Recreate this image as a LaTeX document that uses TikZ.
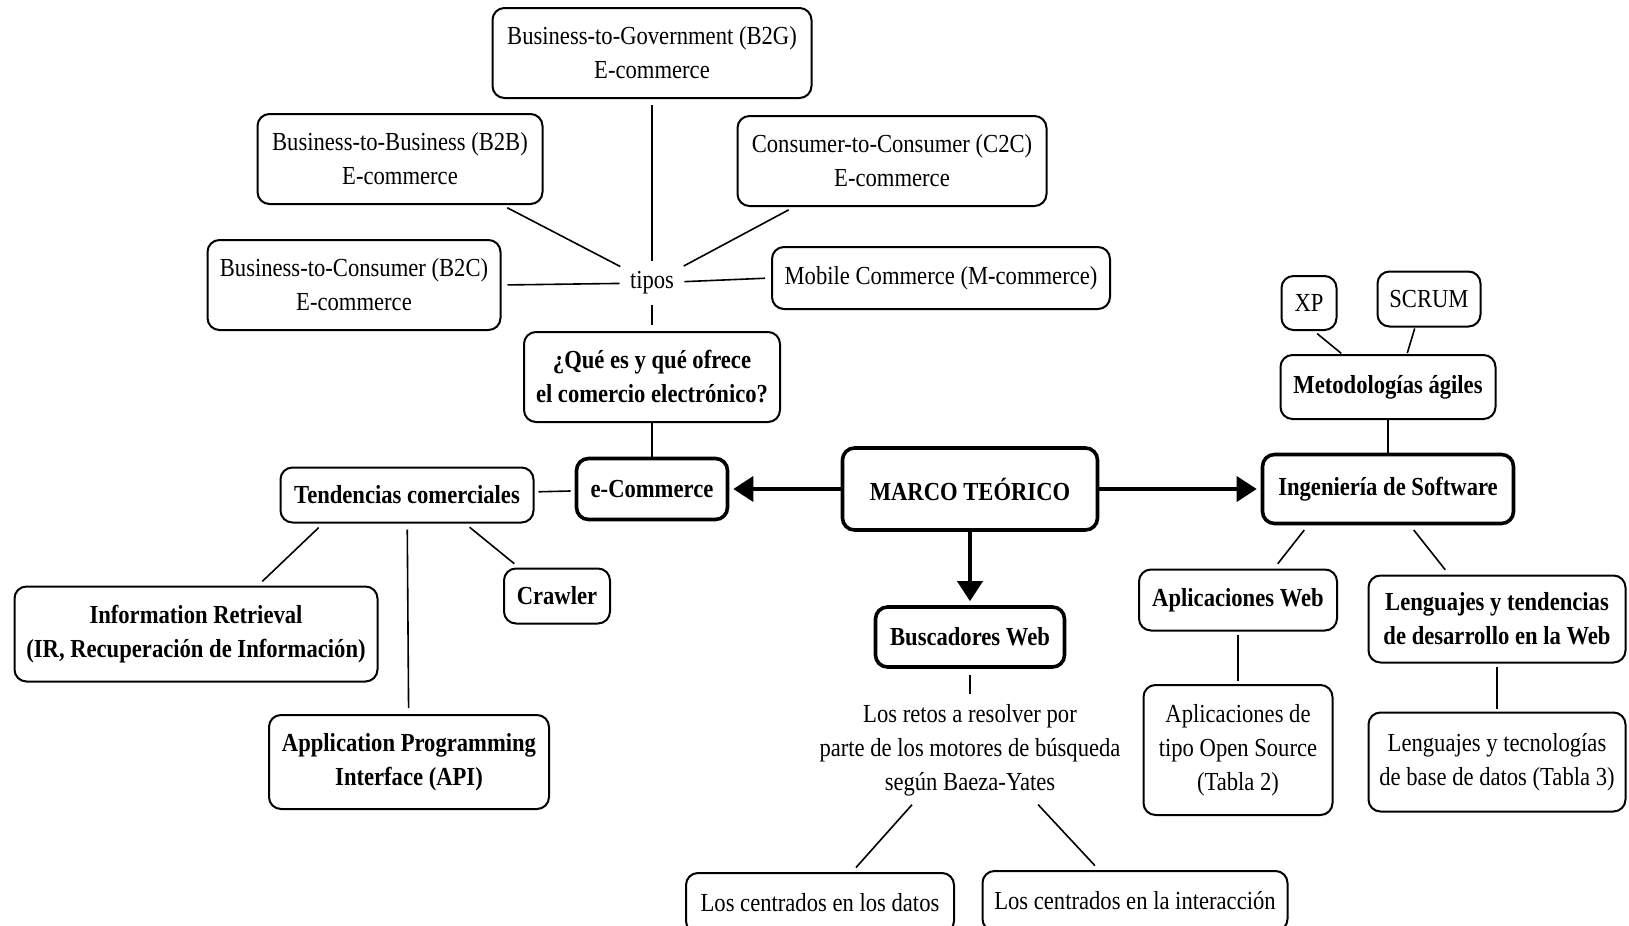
\documentclass[tikz,border=0pt]{standalone}
\usepackage{fontspec}
\setmainfont{Liberation Serif}[FakeStretch=0.87]
\usetikzlibrary{positioning}
\usetikzlibrary{shapes,arrows.meta}
\tikzstyle{block} = [rectangle, draw, rounded corners=6pt, line width=1pt,
    align=center, inner sep=0pt, font=\fontsize{13}{17}\selectfont]
\tikzstyle{bblock} = [block, font=\fontsize{13}{17}\selectfont\bfseries]
\tikzstyle{mainblock} = [bblock, line width=1.8pt]
\tikzstyle{label} = [align=center, inner sep=2pt, font=\fontsize{13}{17}\selectfont]
\tikzstyle{line} = [draw, line width=0.8pt, shorten <=3pt, shorten >=3pt]
\tikzstyle{arrowline} = [draw, line width=1.8pt, shorten >=2pt,
    -{Triangle[length=10pt,width=12.5pt]}]

\begin{document}
\begin{tikzpicture}[x=0.5pt, y=-0.5pt, node distance=100pt]
    \useasboundingbox (0,0) rectangle (1629,926);
    % Place nodes
    \node [mainblock, minimum width=127.5pt, minimum height=41pt] (marco) at (970,489) {MARCO TEÓRICO};
    \node [mainblock, left of=marco, node distance=159pt, minimum width=75.5pt, minimum height=30.5pt] (ecom) {e-Commerce};
    \node [mainblock, right of=marco, node distance=209pt, minimum width=125.5pt, minimum height=34.5pt] (ing) {Ingeniería de Software};
    \node [mainblock, below of=marco, node distance=74pt, minimum width=94.5pt, minimum height=30pt] (busc) {Buscadores Web};

    \node [bblock, above of=ecom, node distance=56pt, minimum width=128pt, minimum height=45pt] (que) {¿Qué es y qué ofrece\\el comercio electrónico?};
    \node [label, above of=que, node distance=47pt] (tipos) {tipos};
    \node [block, above of=tipos, node distance=115pt, minimum width=159.5pt, minimum height=45pt] (b2g) {Business-to-Government (B2G)\\E-commerce};
    \node [block, minimum width=142.5pt, minimum height=45pt] (b2b) at (400,159) {Business-to-Business (B2B)\\E-commerce};
    \node [block, minimum width=154.5pt, minimum height=45pt] (c2c) at (892,161) {Consumer-to-Consumer (C2C)\\E-commerce};
    \node [block, minimum width=146.5pt, minimum height=45pt] (b2c) at (354,285) {Business-to-Consumer (B2C)\\E-commerce};
    \node [block, minimum width=169pt, minimum height=31pt] (mobile) at (941,278) {Mobile Commerce (M-commerce)};

    \node [bblock, minimum width=126.5pt, minimum height=27.5pt] (tend) at (407,495) {Tendencias comerciales};
    \node [bblock, minimum width=53pt, minimum height=27.5pt] (crawler) at (557,596) {Crawler};
    \node [bblock, minimum width=181.5pt, minimum height=47.5pt] (ir) at (196,634) {Information Retrieval\\(IR, Recuperación de Información)};
    \node [bblock, minimum width=140pt, minimum height=47pt] (api) at (409,762) {Application Programming\\Interface (API)};

    \node [bblock, above of=ing, node distance=51pt, minimum width=107.5pt, minimum height=32pt] (met) {Metodologías ágiles};
    \node [block, minimum width=27.5pt, minimum height=27pt] (xp) at (1309,303) {XP};
    \node [block, minimum width=51.5pt, minimum height=27.5pt] (scrum) at (1429,299) {SCRUM};
    \node [bblock, minimum width=99pt, minimum height=30.5pt] (aweb) at (1238,600) {Aplicaciones Web};
    \node [bblock, minimum width=128.5pt, minimum height=43.5pt] (leng) at (1497,619) {Lenguajes y tendencias\\de desarrollo en la Web};
    \node [block, below of=aweb, node distance=75pt, minimum width=94.5pt, minimum height=65pt] (aos) {Aplicaciones de\\tipo Open Source\\(Tabla 2)};
    \node [block, below of=leng, node distance=71.5pt, minimum width=128.5pt, minimum height=49.5pt] (ltec) {Lenguajes y tecnologías\\de base de datos (Tabla 3)};

    \node [label, below of=busc, node distance=56.5pt] (retos) {Los retos a resolver por\\parte de los motores de búsqueda\\según Baeza-Yates};
    \node [block, minimum width=134pt, minimum height=30pt] (datos) at (820,903) {Los centrados en los datos};
    \node [block, minimum width=152.5pt, minimum height=30pt] (inter) at (1135,901) {Los centrados en la interacción};

    % Draw edges
    \path [arrowline] (marco) -- (ecom);
    \path [arrowline] (marco) -- (ing);
    \path [arrowline] (marco) -- (busc);

    \path [line] (b2g) -- (tipos);
    \path [line] ([xshift=51pt]b2b.south) -- (tipos);
    \path [line] ([xshift=-49pt]c2c.south) -- (tipos);
    \path [line] (b2c.east) -- (tipos);
    \path [line] (tipos) -- (mobile.west);
    \path [line] (tipos) -- (que);
    \path [draw, line width=0.8pt] (que) -- (ecom);
    \path [line, shorten <=2pt, shorten >=2pt] (ecom) -- (tend);

    \path [line] ([xshift=-42pt]tend.south) -- ([xshift=31pt]ir.north);
    \path [line] (tend) -- (api);
    \path [line] ([xshift=29pt]tend.south) -- ([xshift=-19pt]crawler.north);

    \path [draw, line width=0.8pt] (met) -- (ing);
    \path [line, shorten <=2pt, shorten >=0.5pt] ([xshift=2.5pt]xp.south) -- ([xshift=-23pt]met.north);
    \path [line, shorten <=0.5pt, shorten >=0.5pt] ([xshift=-7pt]scrum.south) -- ([xshift=9.5pt]met.north);
    \path [line] ([xshift=-40pt]ing.south) -- ([xshift=18pt]aweb.north);
    \path [line] ([xshift=11pt]ing.south) -- ([xshift=-24pt]leng.north);
    \path [line, shorten <=1.5pt, shorten >=1.5pt] (aweb) -- (aos);
    \path [line, shorten <=1.5pt, shorten >=1.5pt] (leng) -- (ltec);

    \path [line] (busc) -- (retos);
    \path [line] ([xshift=-27pt]retos.south) -- ([xshift=16pt]datos.north);
    \path [line] ([xshift=32pt]retos.south) -- ([xshift=-18pt]inter.north);
\end{tikzpicture}
\end{document}
